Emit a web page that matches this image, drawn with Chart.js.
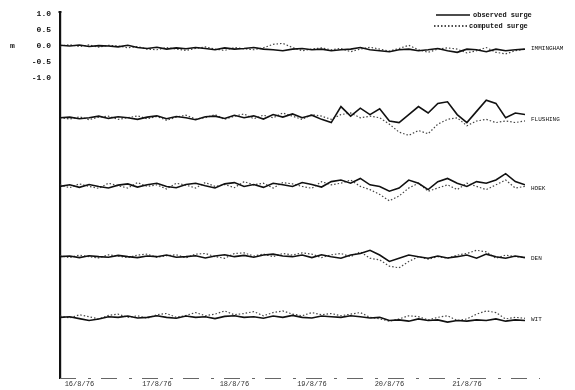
<!DOCTYPE html>
<html><head><meta charset="utf-8">
<script src="https://cdn.jsdelivr.net/npm/chart.js@4"></script>
<style>html,body{margin:0;padding:0;background:#fff}#w{width:575px;height:390px}</style>
</head><body><div id="w"><canvas id="c"></canvas></div>
<script>
// time grid (hours from start of 16/8/76 record), 3-hourly
const hours = Array.from({length:49}, (_, i) => i * 3);
const stations = ["IMMINGHAM", "FLUSHING", "HOEK", "DEN", "WIT"];
const stationOffsets = [0, -2.25, -4.4, -6.6, -8.5];
const dateLabels = ["16/8/76", "17/8/76", "18/8/76", "19/8/76", "20/8/76", "21/8/76"];
const dateTickHours = [6, 30, 54, 78, 102, 126];
const yTickValues = [1.0, 0.5, 0.0, -0.5, -1.0];
const yTickLabels = ["1.0", "0.5", "0.0", "-0.5", "-1.0"];

const obs1 = [0.02,0.0,0.03,-0.02,0.01,0.0,-0.03,0.02,-0.05,-0.08,-0.04,-0.1,-0.06,-0.09,-0.05,-0.08,-0.12,-0.06,-0.1,-0.08,-0.05,-0.1,-0.12,-0.15,-0.1,-0.08,-0.12,-0.1,-0.15,-0.12,-0.1,-0.05,-0.12,-0.15,-0.18,-0.12,-0.1,-0.15,-0.12,-0.08,-0.15,-0.2,-0.1,-0.12,-0.18,-0.1,-0.15,-0.12,-0.1];
const com1 = [0.0,0.04,-0.02,0.03,-0.04,0.02,0.0,-0.06,-0.02,-0.1,-0.12,-0.05,-0.1,-0.14,-0.08,-0.03,-0.1,-0.14,-0.05,-0.09,-0.12,-0.06,0.05,0.08,-0.05,-0.15,-0.1,-0.06,-0.12,-0.08,-0.18,-0.1,-0.04,-0.1,-0.16,-0.08,0.02,-0.12,-0.2,-0.1,-0.06,-0.1,-0.22,-0.15,-0.05,-0.2,-0.25,-0.15,-0.1];
const obs2 = [0.0,0.02,-0.03,0.0,0.05,-0.02,0.03,0.0,-0.05,0.02,0.06,-0.03,0.04,0.0,-0.06,0.03,0.05,-0.02,0.08,0.0,0.06,-0.04,0.1,0.02,0.12,0.0,0.08,-0.05,-0.15,0.35,0.05,0.3,0.1,0.28,-0.1,-0.15,0.1,0.35,0.15,0.45,0.5,0.1,-0.15,0.2,0.55,0.45,0.0,0.15,0.1];
const com2 = [0.0,-0.04,0.03,-0.06,0.02,0.05,-0.05,0.0,0.06,-0.03,0.04,-0.08,0.02,0.08,-0.04,0.0,0.1,-0.05,0.05,0.12,-0.03,0.08,0.0,0.15,0.05,-0.05,0.1,0.05,-0.05,0.1,0.15,0.0,0.05,0.0,-0.2,-0.45,-0.55,-0.4,-0.5,-0.2,-0.05,0.0,-0.25,-0.1,-0.05,-0.15,-0.1,-0.15,-0.1];
const obs3 = [0.0,0.05,-0.03,0.06,0.0,-0.05,0.04,0.08,-0.02,0.05,0.1,0.0,-0.04,0.06,0.1,0.02,-0.05,0.08,0.12,0.0,0.06,-0.03,0.1,0.05,0.0,0.12,0.06,-0.02,0.15,0.2,0.1,0.25,0.05,0.0,-0.15,-0.05,0.2,0.1,-0.1,0.15,0.25,0.1,0.0,0.15,0.1,0.2,0.4,0.15,0.05];
const com3 = [0.05,-0.04,0.08,0.0,-0.06,0.1,0.02,-0.05,0.12,0.0,0.05,-0.08,0.1,0.04,-0.05,0.12,0.0,0.06,-0.04,0.15,0.05,0.1,-0.05,0.12,0.08,0.0,-0.06,0.15,0.05,0.1,0.2,0.0,-0.1,-0.25,-0.45,-0.3,-0.05,0.1,-0.15,-0.05,0.05,-0.1,0.1,0.0,-0.1,0.05,0.2,-0.05,0.0];
const obs4 = [0.0,0.02,-0.03,0.03,0.0,-0.02,0.04,0.0,-0.03,0.02,0.0,0.05,-0.02,0.0,0.03,-0.04,0.02,0.06,0.0,0.04,-0.02,0.05,0.08,0.02,0.0,0.05,-0.03,0.06,0.0,-0.05,0.05,0.1,0.2,0.05,-0.15,-0.05,0.05,0.0,-0.05,0.02,-0.04,0.0,0.05,-0.05,0.08,0.0,-0.05,0.02,-0.03];
const com4 = [0.03,-0.03,0.05,0.0,-0.04,0.06,0.02,-0.03,0.05,0.08,-0.02,0.03,0.06,-0.04,0.08,0.1,0.0,-0.05,0.1,0.12,0.02,0.08,0.0,0.1,0.05,0.12,0.08,-0.03,0.06,0.1,0.0,0.15,-0.05,-0.1,-0.3,-0.35,-0.15,0.0,-0.08,0.0,-0.05,0.05,0.1,0.2,0.15,-0.05,0.05,0.0,-0.02];
const obs5 = [0.0,0.02,-0.04,-0.1,-0.05,0.02,0.0,0.04,-0.02,0.0,0.05,0.0,-0.03,0.04,0.0,0.02,-0.04,0.03,0.05,0.0,0.02,-0.03,0.04,0.0,0.06,0.0,-0.02,0.04,0.02,0.0,0.05,0.02,-0.02,0.0,-0.1,-0.08,-0.12,-0.05,-0.1,-0.08,-0.15,-0.1,-0.12,-0.08,-0.1,-0.05,-0.12,-0.08,-0.1];
const com5 = [0.04,-0.02,0.08,0.02,-0.05,0.06,0.1,0.0,0.05,-0.03,0.08,0.12,0.0,0.06,0.15,0.05,0.1,0.2,0.08,0.12,0.18,0.05,0.15,0.2,0.1,0.05,0.15,0.08,0.12,0.05,0.1,0.15,0.0,-0.05,-0.12,-0.05,0.05,0.02,-0.08,0.0,0.05,-0.1,-0.05,0.1,0.2,0.15,-0.05,0.0,-0.03];

const observed = [obs1, obs2, obs3, obs4, obs5];
const computed = [com1, com2, com3, com4, com5];

const datasets = [];
for (let s = 0; s < stations.length; s++) {
  const off = stationOffsets[s];
  datasets.push({
    label: "observed surge " + stations[s],
    data: observed[s].map((v, i) => ({x: hours[i], y: off + v})),
    borderColor: "#111", borderWidth: 1.6, pointRadius: 0, tension: 0, fill: false
  });
  datasets.push({
    label: "computed surge " + stations[s],
    data: computed[s].map((v, i) => ({x: hours[i], y: off + v})),
    borderColor: "#444", borderWidth: 1.2, borderDash: [1.5, 2], pointRadius: 0, tension: 0, fill: false
  });
}

const FONT = "Liberation Mono";

const decor = {
  id: "decor",
  afterDraw(chart) {
    const ctx = chart.ctx;
    const y = chart.scales.y;
    const area = chart.chartArea;
    ctx.save();
    ctx.fillStyle = "#111";
    ctx.strokeStyle = "#111";
    // unit label
    ctx.font = "bold 8px '" + FONT + "'";
    ctx.textBaseline = "middle";
    ctx.textAlign = "left";
    ctx.fillText("m", 10, y.getPixelForValue(0));
    // arrow tip at top of y axis
    ctx.lineWidth = 2;
    ctx.beginPath();
    ctx.moveTo(area.left, area.top);
    ctx.lineTo(area.left, area.top - 3);
    ctx.stroke();
    ctx.lineWidth = 1;
    ctx.beginPath();
    ctx.moveTo(area.left - 2, area.top - 2);
    ctx.lineTo(area.left + 2, area.top - 2);
    ctx.stroke();
    // broken bottom axis line
    ctx.strokeStyle = "#666";
    ctx.lineWidth = 1;
    ctx.setLineDash([16, 12, 3, 10]);
    ctx.beginPath();
    ctx.moveTo(area.left, area.bottom + 0.5);
    ctx.lineTo(area.right + 15, area.bottom + 0.5);
    ctx.stroke();
    ctx.strokeStyle = "#111";
    // legend
    ctx.font = "bold 7px '" + FONT + "'";
    ctx.lineWidth = 1.3;
    ctx.setLineDash([]);
    ctx.beginPath(); ctx.moveTo(436, 15); ctx.lineTo(470, 15); ctx.stroke();
    ctx.fillText("observed surge", 473, 15);
    ctx.setLineDash([1.5, 2]);
    ctx.beginPath(); ctx.moveTo(434, 26); ctx.lineTo(468, 26); ctx.stroke();
    ctx.setLineDash([]);
    ctx.fillText("computed surge", 469, 26);
    // station labels
    ctx.font = "6px '" + FONT + "'";
    for (let s = 0; s < stations.length; s++) {
      ctx.fillText(stations[s], 531, y.getPixelForValue(stationOffsets[s]) + 2);
    }
    ctx.restore();
  }
};

new Chart(document.getElementById("c"), {
  type: "line",
  data: {datasets},
  plugins: [decor],
  options: {
    responsive: true, maintainAspectRatio: false, animation: false,
    layout: {padding: {top: 14, right: 50, left: 0, bottom: 0}},
    plugins: {legend: {display: false}, tooltip: {enabled: false}},
    scales: {
      x: {
        type: "linear", min: 0, max: 144,
        afterFit(s) { s.height = 12; },
        afterBuildTicks(s) { s.ticks = dateTickHours.map(v => ({value: v})); },
        grid: {display: false, drawTicks: false},
        border: {display: false},
        ticks: {
          autoSkip: false, maxRotation: 0, padding: 2,
          font: {family: FONT, size: 7}, color: "#333",
          callback(v) { const i = dateTickHours.indexOf(v); return i >= 0 ? dateLabels[i] : ""; }
        }
      },
      y: {
        type: "linear", min: -10.4, max: 1.0,
        afterFit(s) { s.width = 60; },
        afterBuildTicks(s) { s.ticks = yTickValues.map(v => ({value: v})); },
        grid: {display: false, drawTicks: true, tickLength: 3, tickColor: "#111"},
        border: {display: true, color: "#111", width: 2.2},
        ticks: {
          autoSkip: false, padding: 6,
          font: {family: FONT, size: 8, weight: "bold"}, color: "#111",
          callback(v) { const i = yTickValues.indexOf(v); return i >= 0 ? yTickLabels[i] : ""; }
        }
      }
    }
  }
});
</script>
</body></html>
